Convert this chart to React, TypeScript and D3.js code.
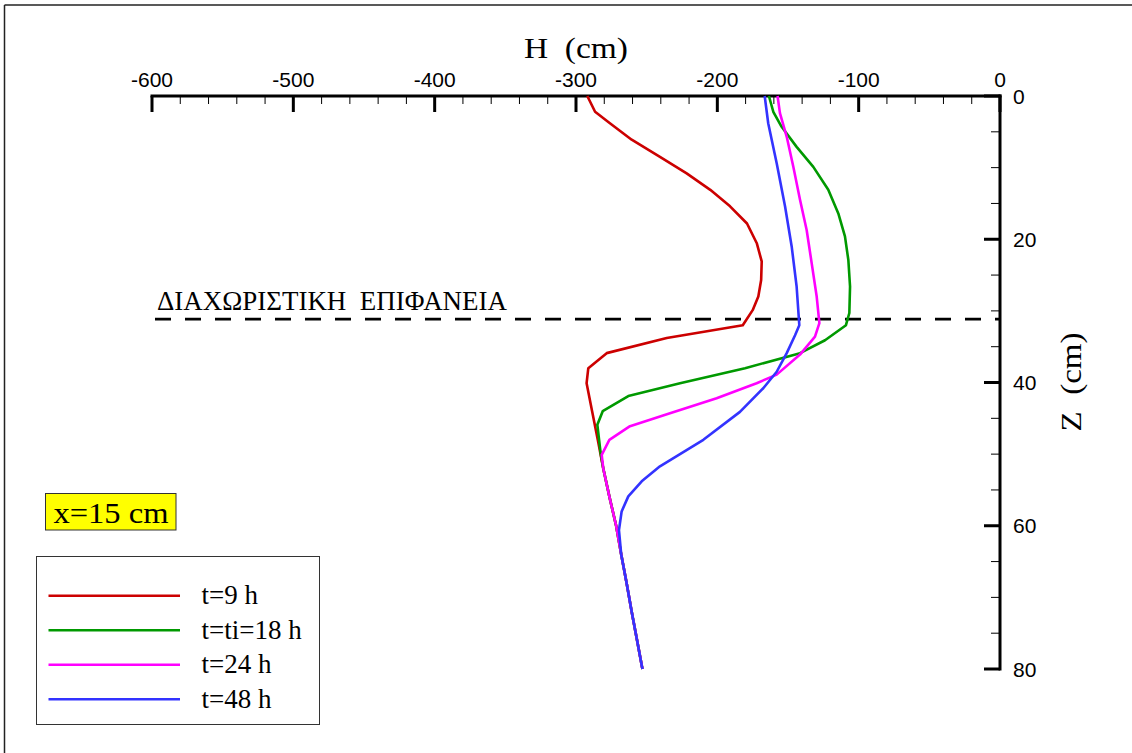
import React from "react";
import * as d3 from "d3";

const W = 1132;
const H = 753;

// Z (cm) depth levels and H (cm) pressure head per series
const redZ = [0, 2.2, 3.8, 6.1, 8.5, 10.8, 13.1, 15.4, 17.8, 20.6, 23.1, 25.7, 28, 29.9, 32, 33.8, 35.9, 38, 40.1, 44, 48, 52, 56, 60, 64, 68, 72, 76, 80];
const redH = [-292, -286.5, -276, -260.6, -240.6, -221.7, -205, -191, -179, -172, -168.6, -169, -171, -175, -182, -235.8, -278.3, -291.3, -292.5, -288.6, -284.6, -280.7, -276.3, -271.6, -268, -264.2, -260.6, -256.8, -253];

const greenZ = [0, 2.2, 4.3, 7.1, 9.9, 13.1, 16.4, 19.6, 22.9, 26.6, 30.3, 32, 34.1, 35.9, 38, 40.1, 41.9, 44, 45.9, 50, 52, 56, 60, 64, 68, 72, 76, 80];
const greenH = [-163.5, -160.4, -154.5, -143.9, -132.1, -121.5, -114.4, -109.7, -107.3, -106.1, -106.6, -109, -123.8, -141.5, -180.4, -226.4, -263, -281.1, -284.9, -282.5, -280.7, -276.3, -271.6, -268, -264.2, -260.6, -256.8, -253];

const magentaZ = [0, 2.4, 5.7, 9.9, 14.5, 18.7, 23.4, 28, 31.7, 33.6, 36.1, 38.9, 40.1, 42.2, 44.3, 46.1, 48, 50.1, 52, 56, 60, 64, 68, 72, 76, 80];
const magentaH = [-157.4, -155.7, -150.9, -146.2, -141.5, -136.8, -133.2, -129.7, -127.8, -130.9, -141.5, -158, -172.2, -200.5, -233.5, -261.8, -276.4, -281.8, -280.7, -276.3, -271.6, -268, -264.2, -260.6, -256.8, -253];

const blueZ = [0, 3.8, 9.4, 15.4, 21, 26.6, 32, 33.4, 35.9, 38.5, 40.8, 44.1, 48, 51.7, 53.8, 55.9, 58, 60.6, 64, 68, 72, 76, 80];
const blueH = [-166.5, -164, -158, -152.1, -147.4, -143.9, -142, -145, -150.9, -158, -167.5, -184, -209.9, -240.6, -253.5, -263, -267.7, -269.6, -268, -264.2, -260.6, -256.8, -253];

const seriesNames = ["t=9 h", "t=ti=18 h", "t=24 h", "t=48 h"];
const seriesColors = ["#cc0000", "#009900", "#ff00ff", "#3333ff"];
const seriesZ = [redZ, greenZ, magentaZ, blueZ];
const seriesH = [redH, greenH, magentaH, blueH];

const xTicks = [-600, -500, -400, -300, -200, -100, 0];
const yTicks = [0, 20, 40, 60, 80];
const interfaceZ = 31.15;

export default function App() {
  const x = d3.scaleLinear().domain([-600, 0]).range([152, 1000]);
  const y = d3.scaleLinear().domain([0, 80]).range([96, 669]);

  const line = d3
    .line<[number, number]>()
    .x((d) => x(d[0]))
    .y((d) => y(d[1]));

  const xMinor = d3.range(-600, 0.1, 20).filter((v) => !xTicks.includes(v));
  const yMinor = d3.range(0, 80.1, 5).filter((v) => !yTicks.includes(v));

  const x0 = x(0);
  const y0 = y(0);

  return (
    <svg
      width={W}
      height={H}
      style={{ position: "absolute", left: 0, top: 0, background: "#fff" }}
    >
      {/* outer frame */}
      <line x1={4.5} y1={5} x2={W} y2={5} stroke="#222" strokeWidth={1.5} />
      <line x1={4.5} y1={5} x2={4.5} y2={H} stroke="#222" strokeWidth={1.5} />

      {/* top axis */}
      <line x1={x(-600) - 1.5} y1={y0} x2={x0 + 1.5} y2={y0} stroke="#000" strokeWidth={3} />
      {xTicks.map((t) => (
        <g key={"xt" + t}>
          <line x1={x(t)} y1={y0} x2={x(t)} y2={y0 + 16} stroke="#000" strokeWidth={3} />
          <text
            x={x(t)}
            y={87}
            textAnchor="middle"
            fontFamily="Liberation Sans, Arial, sans-serif"
            fontSize={21}
          >
            {t}
          </text>
        </g>
      ))}
      {xMinor.map((t) => (
        <line key={"xm" + t} x1={x(t)} y1={y0} x2={x(t)} y2={y0 + 8} stroke="#000" strokeWidth={1} />
      ))}

      {/* right axis */}
      <line x1={x0} y1={y0 - 1.5} x2={x0} y2={y(80) + 1.5} stroke="#000" strokeWidth={3} />
      {yTicks.map((t) => (
        <g key={"yt" + t}>
          <line x1={x0} y1={y(t)} x2={x0 - 16} y2={y(t)} stroke="#000" strokeWidth={3} />
          <text
            x={1013}
            y={y(t)}
            dy="0.36em"
            textAnchor="start"
            fontFamily="Liberation Sans, Arial, sans-serif"
            fontSize={21}
          >
            {t}
          </text>
        </g>
      ))}
      {yMinor.map((t) => (
        <line key={"ym" + t} x1={x0} y1={y(t)} x2={x0 - 9} y2={y(t)} stroke="#000" strokeWidth={1} />
      ))}

      {/* axis titles */}
      <text
        x={576}
        y={58}
        textAnchor="middle"
        fontFamily="Liberation Serif, Times New Roman, serif"
        fontSize={29}
        textLength={104}
        lengthAdjust="spacingAndGlyphs"
        style={{ whiteSpace: "pre" }}
      >
        {"H  (cm)"}
      </text>
      <text
        transform={`translate(1081,382) rotate(-90)`}
        textAnchor="middle"
        fontFamily="Liberation Serif, Times New Roman, serif"
        fontSize={29}
        textLength={99}
        lengthAdjust="spacingAndGlyphs"
        style={{ whiteSpace: "pre" }}
      >
        {"Z  (cm)"}
      </text>

      {/* interface line */}
      <line
        x1={x(-600)}
        y1={y(interfaceZ)}
        x2={x0}
        y2={y(interfaceZ)}
        stroke="#000"
        strokeWidth={2.8}
        strokeDasharray="16 14"
        strokeDashoffset={27}
      />
      <text
        x={157}
        y={310}
        fontFamily="Liberation Serif, Times New Roman, serif"
        fontSize={27}
        textLength={350}
        lengthAdjust="spacingAndGlyphs"
        style={{ whiteSpace: "pre" }}
      >
        {"ΔΙΑΧΩΡΙΣΤΙΚΗ  ΕΠΙΦΑΝΕΙΑ"}
      </text>

      {/* curves */}
      {seriesH.map((hs, i) => (
        <path
          key={"s" + i}
          d={line(hs.map((h, j) => [h, seriesZ[i][j]] as [number, number])) || ""}
          fill="none"
          stroke={seriesColors[i]}
          strokeWidth={2.6}
          strokeLinejoin="round"
        />
      ))}

      {/* x=15 cm box */}
      <rect x={45.5} y={493.5} width={130.5} height={36.5} fill="#ffff00" stroke="#333" strokeWidth={1} />
      <text
        x={53.5}
        y={522.5}
        fontFamily="Liberation Serif, Times New Roman, serif"
        fontSize={30}
        textLength={115}
        lengthAdjust="spacingAndGlyphs"
      >
        x=15 cm
      </text>

      {/* legend */}
      <rect x={36.5} y={556.5} width={283} height={168} fill="#fff" stroke="#333" strokeWidth={1} />
      {seriesNames.map((name, i) => {
        const ly = 595.7 + i * 34.5;
        return (
          <g key={"lg" + i}>
            <line x1={48.5} y1={ly} x2={180} y2={ly} stroke={seriesColors[i]} strokeWidth={2.6} />
            <text
              x={201.5}
              y={ly + 8.5}
              fontFamily="Liberation Serif, Times New Roman, serif"
              fontSize={27}
            >
              {name}
            </text>
          </g>
        );
      })}
    </svg>
  );
}
